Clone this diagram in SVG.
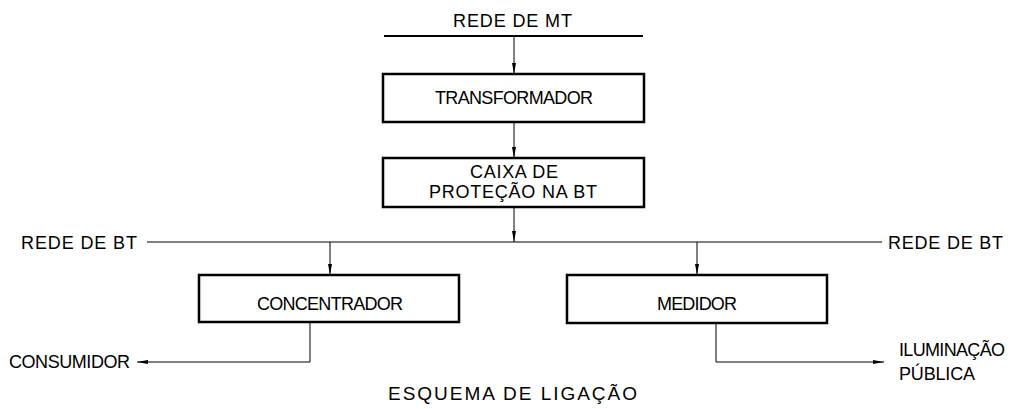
<svg xmlns="http://www.w3.org/2000/svg" width="1010" height="409" viewBox="0 0 1010 409">
<defs>
<marker id="arr" viewBox="0 0 11 4" refX="11" refY="2" markerWidth="11" markerHeight="4" orient="auto" markerUnits="userSpaceOnUse">
<path d="M0,0 L11,2 L0,4 z" fill="#000"/>
</marker>
<style>
text{font-family:"Liberation Sans","DejaVu Sans",sans-serif;font-size:18px;fill:#000}
.box{fill:#fff;stroke:#000;stroke-width:2.5}
.ln{fill:none;stroke:#000;stroke-width:1}
.ar{fill:none;stroke:#000;stroke-width:1;marker-end:url(#arr)}
.c{text-anchor:middle}
</style>
</defs>
<rect width="1010" height="409" fill="#fff"/>
<g id="connectors">
<line x1="384" y1="36" x2="643" y2="36" stroke="#000" stroke-width="2"/>
<path class="ar" d="M514,36 V74"/>
<path class="ar" d="M514,122 V158"/>
<path class="ar" d="M514,207 V242"/>
<path class="ln" d="M147,242 H882"/>
<path class="ar" d="M330,242 V275"/>
<path class="ar" d="M697,242 V275"/>
<path class="ar" d="M310,322 V362 H137"/>
<path class="ar" d="M716,323 V362 H884"/>
</g>
<g id="rede-mt"><text class="c" x="512.5" y="27" textLength="119" lengthAdjust="spacing">REDE DE MT</text></g>
<g id="transformador">
<rect class="box" x="383" y="74" width="261" height="48"/>
<text class="c" x="514" y="104" textLength="158" lengthAdjust="spacing">TRANSFORMADOR</text>
</g>
<g id="caixa">
<rect class="box" x="383" y="158" width="261" height="49"/>
<text class="c" x="514" y="178" textLength="88" lengthAdjust="spacing">CAIXA DE</text>
<text class="c" x="513" y="198" textLength="168" lengthAdjust="spacing">PROTEÇÃO NA BT</text>
</g>
<g id="rede-bt-left"><text x="21" y="249" textLength="116" lengthAdjust="spacing">REDE DE BT</text></g>
<g id="rede-bt-right"><text x="888" y="249" textLength="115" lengthAdjust="spacing">REDE DE BT</text></g>
<g id="concentrador">
<rect class="box" x="199" y="275" width="260" height="47"/>
<text class="c" x="330" y="310" textLength="146" lengthAdjust="spacing">CONCENTRADOR</text>
</g>
<g id="medidor">
<rect class="box" x="567" y="275" width="260" height="48"/>
<text class="c" x="697" y="310" textLength="80" lengthAdjust="spacing">MEDIDOR</text>
</g>
<g id="consumidor"><text x="9" y="368" textLength="121" lengthAdjust="spacing">CONSUMIDOR</text></g>
<g id="iluminacao">
<text x="899" y="356" textLength="106" lengthAdjust="spacing">ILUMINAÇÃO</text>
<text x="899" y="380" textLength="76" lengthAdjust="spacing">PÚBLICA</text>
</g>
<g id="titulo"><text class="c" x="512.5" y="400" style="font-size:19px" textLength="249" lengthAdjust="spacing">ESQUEMA DE LIGAÇÃO</text></g>
</svg>
